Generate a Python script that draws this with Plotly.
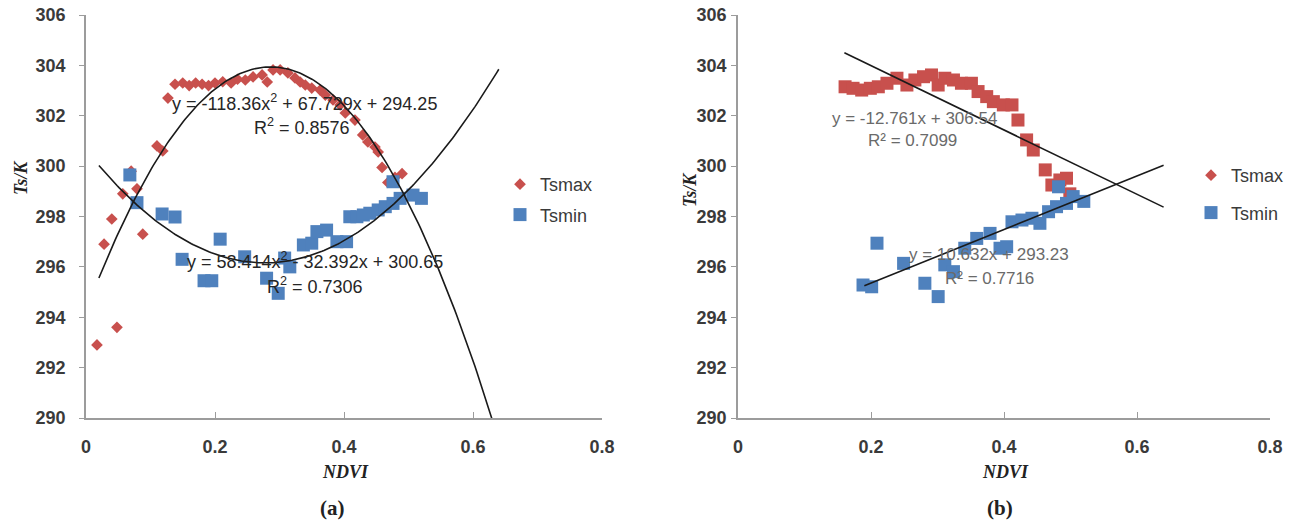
import numpy as np
import plotly.graph_objects as go

# ---------------- data : panel (a) ----------------
a_tsmax_ndvi = [0.017, 0.028, 0.040, 0.048, 0.057, 0.070, 0.079, 0.088, 0.110, 0.119, 0.127,
                0.138, 0.150, 0.160, 0.170, 0.180, 0.190, 0.200, 0.212, 0.225, 0.235, 0.247,
                0.259, 0.273, 0.281, 0.290, 0.301, 0.313, 0.324, 0.332, 0.340, 0.350, 0.363,
                0.371, 0.383, 0.394, 0.402, 0.417, 0.429, 0.437, 0.448, 0.453, 0.459, 0.468,
                0.479, 0.490]
a_tsmax = [292.9, 296.9, 297.9, 293.6, 298.9, 299.8, 299.1, 297.3, 300.8, 300.6, 302.7,
           303.25, 303.3, 303.2, 303.3, 303.25, 303.2, 303.3, 303.35, 303.3, 303.45, 303.42,
           303.54, 303.62, 303.34, 303.82, 303.82, 303.70, 303.5, 303.34, 303.22, 303.1, 303.02,
           302.82, 302.63, 302.43, 302.11, 301.83, 301.24, 300.96, 300.76, 300.56, 299.95, 299.35,
           299.55, 299.7]
a_tsmin_ndvi = [0.068, 0.079, 0.118, 0.138, 0.149, 0.183, 0.195, 0.208, 0.246, 0.280, 0.298,
                0.308, 0.316, 0.337, 0.350, 0.358, 0.373, 0.389, 0.404, 0.409, 0.420, 0.430,
                0.440, 0.453, 0.464, 0.476, 0.487, 0.476, 0.507, 0.520]
a_tsmin = [299.65, 298.55, 298.1, 297.98, 296.3, 295.45, 295.45, 297.1, 296.4, 295.55, 294.95,
           296.35, 296.0, 296.87, 296.94, 297.4, 297.46, 297.0, 297.0, 297.99, 297.99, 298.06,
           298.13, 298.26, 298.39, 298.52, 298.72, 299.38, 298.85, 298.72]

# ---------------- data : panel (b) ----------------
b_tsmax_ndvi = [0.161, 0.173, 0.186, 0.199, 0.211, 0.224, 0.239, 0.254, 0.266, 0.279, 0.291,
                0.301, 0.311, 0.324, 0.336, 0.351, 0.361, 0.374, 0.384, 0.399, 0.412, 0.421,
                0.434, 0.444, 0.462, 0.472, 0.484, 0.494, 0.499]
b_tsmax = [303.15, 303.09, 303.02, 303.09, 303.15, 303.29, 303.49, 303.22, 303.42, 303.55, 303.62,
           303.22, 303.49, 303.42, 303.29, 303.29, 302.96, 302.76, 302.56, 302.43, 302.43, 301.83,
           301.04, 300.64, 299.85, 299.25, 299.45, 299.52, 298.9]
b_tsmin_ndvi = [0.188, 0.201, 0.209, 0.249, 0.281, 0.301, 0.311, 0.324, 0.341, 0.359, 0.379,
                0.394, 0.404, 0.412, 0.427, 0.442, 0.454, 0.467, 0.479, 0.482, 0.494, 0.504, 0.520]
b_tsmin = [295.28, 295.21, 296.94, 296.14, 295.35, 294.82, 296.08, 295.81, 296.74, 297.13, 297.33,
           296.74, 296.80, 297.79, 297.86, 297.93, 297.73, 298.19, 298.39, 299.18, 298.52, 298.79, 298.6]

# trendline coefficients (as printed on the chart) and their NDVI spans
a_max_coef = [-118.36, 67.729, 294.25]
a_min_coef = [58.414, -32.392, 300.65]
b_max_coef = [-12.761, 306.54]
b_min_coef = [10.632, 293.23]
a_max_span = [0.02, 0.64]
a_min_span = [0.02, 0.64]
b_max_span = [0.16, 0.64]
b_min_span = [0.19, 0.64]

x_ticks = [0, 0.2, 0.4, 0.6, 0.8]
x_tick_text = ["0", "0.2", "0.4", "0.6", "0.8"]
y_ticks = [290, 292, 294, 296, 298, 300, 302, 304, 306]

RED = "#C8504D"
BLUE = "#4F81BD"
OFF = 8                      # page body margin of the html page
W, H = 1299 - 2 * OFF, 529 - 2 * OFF


def px(x):
    return (x - OFF) / W


def py(y):
    return 1 - (y - OFF) / H


def trend(coef, span):
    xs = np.linspace(span[0], span[1], 200)
    return xs, np.polyval(coef, xs)


fig = go.Figure()

# ---- panel (a) ----
fig.add_trace(go.Scatter(x=a_tsmax_ndvi, y=a_tsmax, mode="markers", name="Tsmax",
                         marker=dict(symbol="diamond", size=9, color=RED),
                         xaxis="x", yaxis="y", legend="legend", legendgroup="a1"))
fig.add_trace(go.Scatter(x=a_tsmin_ndvi, y=a_tsmin, mode="markers", name="Tsmin",
                         marker=dict(symbol="square", size=13, color=BLUE),
                         xaxis="x", yaxis="y", legend="legend", legendgroup="a2"))
for coef, span in [(a_max_coef, a_max_span), (a_min_coef, a_min_span)]:
    xs, ys = trend(coef, span)
    fig.add_trace(go.Scatter(x=xs, y=ys, mode="lines", line=dict(color="#1a1a1a", width=1.6),
                             showlegend=False, hoverinfo="skip", xaxis="x", yaxis="y"))

# ---- panel (b) ----
fig.add_trace(go.Scatter(x=b_tsmax_ndvi, y=b_tsmax, mode="markers", name="Tsmax",
                         marker=dict(symbol="square", size=13, color=RED),
                         xaxis="x2", yaxis="y2", showlegend=False))
fig.add_trace(go.Scatter(x=b_tsmin_ndvi, y=b_tsmin, mode="markers", name="Tsmin",
                         marker=dict(symbol="square", size=13, color=BLUE),
                         xaxis="x2", yaxis="y2", showlegend=False))
for coef, span in [(b_max_coef, b_max_span), (b_min_coef, b_min_span)]:
    xs, ys = trend(coef, span)
    fig.add_trace(go.Scatter(x=xs, y=ys, mode="lines", line=dict(color="#1a1a1a", width=1.6),
                             showlegend=False, hoverinfo="skip", xaxis="x2", yaxis="y2"))
# legend entries for (b)
fig.add_trace(go.Scatter(x=[None], y=[None], mode="markers", name="Tsmax",
                         marker=dict(symbol="diamond", size=9, color=RED),
                         xaxis="x2", yaxis="y2", legend="legend2", legendgroup="b1"))
fig.add_trace(go.Scatter(x=[None], y=[None], mode="markers", name="Tsmin",
                         marker=dict(symbol="square", size=13, color=BLUE),
                         xaxis="x2", yaxis="y2", legend="legend2", legendgroup="b2"))

tickfont = dict(family="Liberation Sans", size=18, color="#3a3a3a", weight="bold")
axis_common = dict(showgrid=False, zeroline=False, showline=True, linecolor="#9c9c9c", linewidth=1.5,
                   tickcolor="#9c9c9c", tickfont=tickfont, fixedrange=True, automargin=False,
                   ticklabeloverflow="allow")
xcommon = dict(axis_common, range=[0, 0.8], tickvals=x_ticks, ticktext=x_tick_text,
               ticks="inside", ticklen=6, tickwidth=1.3, ticklabelstandoff=12)
ycommon = dict(axis_common, range=[290, 306], tickvals=y_ticks, ticks="outside", ticklen=5,
               tickwidth=1.3)

legfont = dict(family="Liberation Sans", size=18, color="#3a3a3a")
fig.update_layout(
    width=W, height=H, margin=dict(l=0, r=0, t=0, b=0),
    paper_bgcolor="white", plot_bgcolor="white",
    xaxis=dict(xcommon, domain=[px(86), px(602)], anchor="y"),
    yaxis=dict(ycommon, domain=[py(418), py(15)], anchor="x", ticklabelstandoff=10),
    xaxis2=dict(xcommon, domain=[px(738), px(1270)], anchor="y2"),
    yaxis2=dict(ycommon, domain=[py(418), py(15)], anchor="x2", ticklabelstandoff=1),
    legend=dict(x=px(500), y=py(166), xanchor="left", yanchor="top", tracegroupgap=4,
                font=legfont, bgcolor="rgba(0,0,0,0)"),
    legend2=dict(x=px(1191), y=py(157), xanchor="left", yanchor="top", tracegroupgap=11,
                 font=legfont, bgcolor="rgba(0,0,0,0)"),
    showlegend=True,
)

ann = []
eqfont_a = dict(family="Liberation Sans", size=18, color="#262626")
eqfont_b = dict(family="Liberation Sans", size=17, color="#6a6a6a")
ann.append(dict(x=px(304), y=py(103), text="y = -118.36x<sup>2</sup> + 67.729x + 294.25", font=eqfont_a))
ann.append(dict(x=px(302), y=py(127), text="R<sup>2</sup> = 0.8576", font=eqfont_a))
ann.append(dict(x=px(315), y=py(260), text="y = 58.414x<sup>2</sup> - 32.392x + 300.65", font=eqfont_a))
ann.append(dict(x=px(315), y=py(285), text="R<sup>2</sup> = 0.7306", font=eqfont_a))
ann.append(dict(x=px(914), y=py(118), text="y = -12.761x + 306.54", font=eqfont_b))
ann.append(dict(x=px(913), y=py(140), text="R² = 0.7099", font=eqfont_b))
ann.append(dict(x=px(989), y=py(255), text="y = 10.632x + 293.23", font=eqfont_b))
ann.append(dict(x=px(989), y=py(278), text="R² = 0.7716", font=eqfont_b))

titlefont = dict(family="Liberation Serif", size=18, color="#222222", weight="bold", style="italic")
ann.append(dict(x=px(21), y=py(178), text="Ts/K", font=titlefont, textangle=-90))
ann.append(dict(x=px(690), y=py(190), text="Ts/K", font=titlefont, textangle=-90))
ann.append(dict(x=px(345), y=py(472), text="NDVI", font=titlefont))
ann.append(dict(x=px(1005), y=py(472), text="NDVI", font=titlefont))
panelfont = dict(family="Liberation Serif", size=21, color="#222222", weight="bold")
ann.append(dict(x=px(332), y=py(508), text="(a)", font=panelfont))
ann.append(dict(x=px(1000), y=py(508), text="(b)", font=panelfont))

for a in ann:
    a.update(xref="paper", yref="paper", showarrow=False, xanchor="center", yanchor="middle")
fig.update_layout(annotations=ann)

fig.write_html("out.html")
